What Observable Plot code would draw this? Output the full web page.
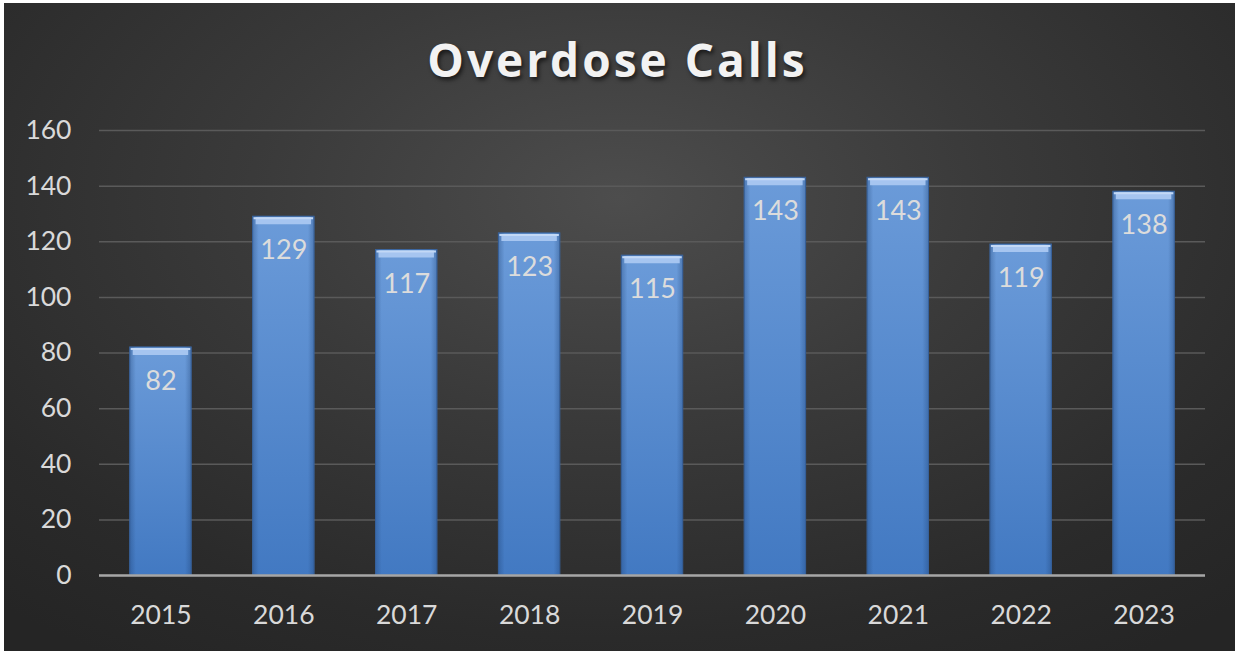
<!DOCTYPE html>
<html>
<head>
<meta charset="utf-8">
<script src="https://cdn.jsdelivr.net/npm/d3@7"></script>
<script src="https://cdn.jsdelivr.net/npm/@observablehq/plot@0.6"></script>
<style>
  html, body { margin: 0; padding: 0; background: #ffffff; width: 1235px; height: 651px; overflow: hidden; }
  #frame {
    position: absolute; left: 4px; top: 3px; width: 1231px; height: 648px;
    background: radial-gradient(ellipse 75% 85% at 50% 30%, #4d4d4d 0%, #3a3a3a 40%, #2a2a2a 80%, #252525 100%);
  }
  #title {
    position: absolute; left: 0; top: 0; width: 1235px; height: 105px;
    text-align: center; font-family: "Open Sans", Lato, sans-serif; font-weight: 700;
    font-size: 46px; letter-spacing: 3px; color: #f2f2f2; line-height: 118px;
    text-shadow: 2px 3px 4px rgba(0,0,0,0.6);
  }
  #chart { position: absolute; left: 0; top: 105px; }
</style>
</head>
<body>
<div id="frame"></div>
<div id="title">Overdose Calls</div>
<div id="chart"></div>
<script>
const years = ["2015", "2016", "2017", "2018", "2019", "2020", "2021", "2022", "2023"];
const calls = [82, 129, 117, 123, 115, 143, 143, 119, 138];
const yTicks = [0, 20, 40, 60, 80, 100, 120, 140, 160];

const data = years.map((y, i) => ({year: y, calls: calls[i]}));

const plot = Plot.plot({
  width: 1235,
  height: 546,
  marginLeft: 99,
  marginRight: 30,
  marginTop: 25,
  marginBottom: 76,
  style: {background: "transparent", color: "#d9d9d9", fontFamily: "Lato, 'Open Sans', sans-serif"},
  x: {domain: years, paddingInner: 0.5, paddingOuter: 0.25, round: false, label: null},
  y: {domain: [0, 160], label: null},
  marks: [
    Plot.gridY(yTicks, {stroke: "#5a5a5a", strokeOpacity: 1, strokeWidth: 1.5}),
    Plot.axisY(yTicks, {tickSize: 0, tickPadding: 28, fontSize: 26.5, fill: "#d9d9d9", label: null}),
    Plot.axisX({tickSize: 0, tickPadding: 30, fontSize: 26.5, fill: "#d9d9d9", label: null}),
    Plot.barY(data, {x: "year", y: "calls", fill: "url(#barGrad)", stroke: "#3b67a3", strokeWidth: 1}),
    Plot.barY(data, {x: "year", y: "calls", fill: "url(#edgeGrad)"}),
    Plot.tickY(data, {x: "year", y: "calls", stroke: "#a6c5f0", strokeWidth: 7, dy: 4, insetLeft: 3, insetRight: 3}),
    Plot.tickY(data, {x: "year", y: "calls", stroke: "#c2d8f6", strokeWidth: 2, dy: 1.5, insetLeft: 1, insetRight: 1}),
    Plot.text(data, {x: "year", y: "calls", text: d => String(d.calls), dy: 34, fontSize: 27, fill: "#dcdcdc", fontFamily: "Lato, 'Open Sans', sans-serif"}),
    Plot.ruleY([0], {stroke: "#a6a6a6", strokeWidth: 2.5})
  ]
});

const svg = d3.select(plot);
const defs = svg.insert("defs", ":first-child");
const g1 = defs.append("linearGradient").attr("id", "barGrad").attr("x1", 0).attr("y1", 0).attr("x2", 0).attr("y2", 1);
g1.append("stop").attr("offset", "0%").attr("stop-color", "#6b9bd9");
g1.append("stop").attr("offset", "100%").attr("stop-color", "#4279c2");
const g2 = defs.append("linearGradient").attr("id", "edgeGrad").attr("x1", 0).attr("y1", 0).attr("x2", 1).attr("y2", 0);
g2.append("stop").attr("offset", "0%").attr("stop-color", "#1d3f70").attr("stop-opacity", 0.35);
g2.append("stop").attr("offset", "10%").attr("stop-color", "#1d3f70").attr("stop-opacity", 0);
g2.append("stop").attr("offset", "90%").attr("stop-color", "#1d3f70").attr("stop-opacity", 0);
g2.append("stop").attr("offset", "100%").attr("stop-color", "#1d3f70").attr("stop-opacity", 0.35);

document.getElementById("chart").appendChild(plot);
</script>
</body>
</html>
